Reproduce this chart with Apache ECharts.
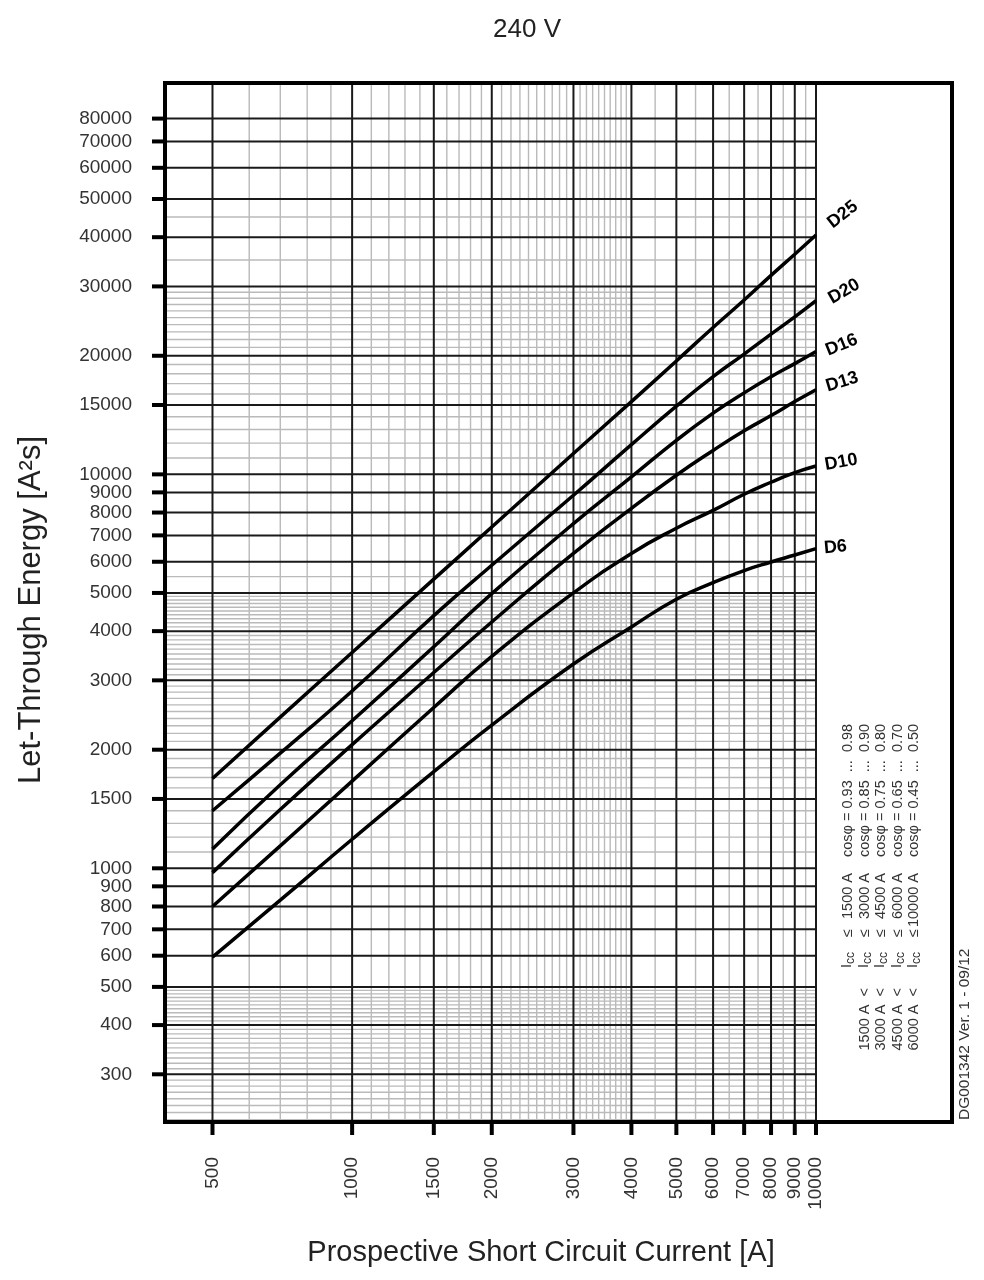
<!DOCTYPE html>
<html>
<head>
<meta charset="utf-8">
<title>240 V</title>
<script src="https://cdn.jsdelivr.net/npm/echarts@6/dist/echarts.min.js"></script>
<style>
    html, body { margin: 0; padding: 0; background: #fff; }
    #main { width: 984px; height: 1280px; }
</style>
</head>
<body>
<div id="main"></div>
<script>
    // axis ranges (log scales)
    var X_MIN = 395, X_MAX = 10000;
    var Y_MIN = 227, Y_MAX = 98500;

    // prospective short circuit current [A]
    var current = [500, 700, 1000, 1500, 2000, 3000, 4000, 5000, 6000, 7000, 8000, 9000, 10000];
    // let-through energy [A²s]
    var d25 = [1690, 2420, 3530, 5420, 7350, 11300, 15300, 19400, 23600, 27700, 32000, 36200, 40500];
    var d20 = [1400, 1960, 2820, 4380, 5880, 8850, 11900, 14900, 17700, 20200, 22700, 25100, 27600];
    var d16 = [1120, 1630, 2370, 3650, 4980, 7500, 9850, 12200, 14300, 16100, 17700, 19100, 20500];
    var d13 = [975, 1410, 2060, 3140, 4220, 6300, 8200, 9950, 11500, 12900, 14100, 15300, 16400];
    var d10 = [800, 1140, 1665, 2560, 3450, 5000, 6300, 7300, 8100, 8900, 9550, 10100, 10500];
    var d6  = [595, 830, 1185, 1760, 2310, 3300, 4100, 4820, 5310, 5700, 5990, 6240, 6480];

    var curveNames = ['D25', 'D20', 'D16', 'D13', 'D10', 'D6'];
    var curveValues = [d25, d20, d16, d13, d10, d6];
    var labelRotate = [38, 30, 22, 17, 10, 5];
    var labelOffset = [[14, -2], [9, 4], [6, 2], [7, -1], [5, 0], [4, 0]];

    // grid / tick values
    var xMajor = [500, 1000, 1500, 2000, 3000, 4000, 5000, 6000, 7000, 8000, 9000, 10000];
    var xMinor = [600, 700, 800, 900, 1100, 1200, 1300, 1400, 1600, 1700, 1800, 1900,
        2100, 2200, 2300, 2400, 2500, 2600, 2700, 2800, 2900,
        3100, 3200, 3300, 3400, 3500, 3600, 3700, 3800, 3900,
        4500, 5500, 6500, 7500, 8500, 9500];
    var yMajor = [300, 400, 500, 600, 700, 800, 900, 1000, 1500, 2000, 3000, 4000, 5000,
        6000, 7000, 8000, 9000, 10000, 15000, 20000, 30000, 40000, 50000, 60000, 70000, 80000];
    var yMinor = [230, 240, 250, 260, 270, 280, 290, 310, 320, 330, 340, 350, 360, 370, 380, 390,
        410, 420, 430, 440, 450, 460, 470, 480, 490,
        1100, 1200, 1300, 1400, 1600, 1700, 1800, 1900,
        2100, 2200, 2300, 2400, 2500, 2600, 2700, 2800, 2900,
        3100, 3200, 3300, 3400, 3500, 3600, 3700, 3800, 3900,
        4100, 4200, 4300, 4400, 4500, 4600, 4700, 4800, 4900, 5500,
        11000, 12000, 13000, 14000, 16000, 17000, 18000, 19000,
        21000, 22000, 23000, 24000, 25000, 26000, 27000, 28000, 29000, 35000, 45000];

    // cos phi table
    var iccFrom = ['', '1500 A', '3000 A', '4500 A', '6000 A'];
    var iccTo = ['1500 A', '3000 A', '4500 A', '6000 A', '10000 A'];
    var cosLow = ['0.93', '0.85', '0.75', '0.65', '0.45'];
    var cosHigh = ['0.98', '0.90', '0.80', '0.70', '0.50'];

    var FONT = '"Liberation Sans", Arial, sans-serif';
    var GRID = { left: 165, right: 168, top: 83, bottom: 158 };

    function gridRender(dir, major) {
        return function (params, api) {
            var cs = params.coordSys;
            var p = api.coord([api.value(0), api.value(1)]);
            var stroke = major ? '#1a1a1a' : '#bababa';
            var lw = major ? 2 : 1.4;
            var kids = [];
            if (dir === 'x') {
                kids.push({ type: 'line', shape: { x1: p[0], y1: cs.y, x2: p[0], y2: cs.y + cs.height },
                    style: { stroke: stroke, lineWidth: lw } });
                if (major) {
                    kids.push({ type: 'line', shape: { x1: p[0], y1: cs.y + cs.height, x2: p[0], y2: cs.y + cs.height + 13 },
                        style: { stroke: '#000', lineWidth: 4 } });
                    kids.push({ type: 'text', x: p[0], y: cs.y + cs.height + 35, rotation: Math.PI / 2,
                        style: { text: String(api.value(0)), font: '19px ' + FONT, fill: '#333',
                            align: 'right', verticalAlign: 'middle' } });
                }
            } else {
                kids.push({ type: 'line', shape: { x1: cs.x, y1: p[1], x2: cs.x + cs.width, y2: p[1] },
                    style: { stroke: stroke, lineWidth: lw } });
                if (major) {
                    kids.push({ type: 'line', shape: { x1: cs.x - 13, y1: p[1], x2: cs.x, y2: p[1] },
                        style: { stroke: '#000', lineWidth: 4 } });
                    kids.push({ type: 'text', x: cs.x - 33, y: p[1],
                        style: { text: String(api.value(1)), font: '19px ' + FONT, fill: '#333',
                            align: 'right', verticalAlign: 'middle' } });
                }
            }
            return { type: 'group', children: kids };
        };
    }

    function gridSeries(dir, major, values) {
        return {
            type: 'custom',
            silent: true,
            z: major ? 2 : 1,
            renderItem: gridRender(dir, major),
            data: values.map(function (v) { return dir === 'x' ? [v, Y_MIN] : [X_MIN, v]; })
        };
    }

    var series = [
        gridSeries('x', false, xMinor),
        gridSeries('y', false, yMinor),
        gridSeries('x', true, xMajor),
        gridSeries('y', true, yMajor)
    ];

    curveNames.forEach(function (name, i) {
        series.push({
            name: name,
            type: 'line',
            z: 5,
            smooth: 0.5,
            showSymbol: false,
            silent: true,
            lineStyle: { color: '#000', width: 3.5 },
            endLabel: {
                show: true,
                formatter: '{a}',
                rotate: labelRotate[i],
                distance: 4,
                offset: labelOffset[i],
                color: '#000',
                fontSize: 18,
                fontWeight: 'bold',
                fontFamily: FONT
            },
            data: current.map(function (c, k) { return [c, curveValues[i][k]]; })
        });
    });

    // rotated cos phi table in the right panel
    var graphics = [];
    var frameRight = 984 - 32;
    var plotBottom = 1280 - GRID.bottom;
    function vtext(text, x, y, align, size) {
        return { type: 'text', x: x, y: y, rotation: Math.PI / 2, z: 20,
            style: { text: text, font: size + 'px ' + FONT, fill: '#333', align: align, verticalAlign: 'middle' } };
    }
    for (var i = 0; i < iccTo.length; i++) {
        var xr = 848 + 16.5 * i;
        if (iccFrom[i]) graphics.push(vtext(iccFrom[i] + '  <', xr, 988, 'right', 14.5));
        graphics.push(vtext('I', xr - 1, 968, 'left', 14.5));
        graphics.push(vtext('cc', xr + 3, 964, 'left', 12));
        graphics.push(vtext('\u2264', xr, 933, 'center', 14.5));
        graphics.push(vtext(iccTo[i], xr, 873, 'right', 14.5));
        graphics.push(vtext('cos\u03c6 = ' + cosLow[i] + '  ...  ' + cosHigh[i], xr, 857, 'left', 14.5));
    }
    graphics.push(vtext('DG001342 Ver. 1 - 09/12', 965, plotBottom - 2, 'left', 15.5));

    // outer frame
    graphics.push({ type: 'rect', z: 30, silent: true,
        shape: { x: GRID.left, y: GRID.top, width: frameRight - GRID.left, height: plotBottom - GRID.top },
        style: { fill: 'transparent', stroke: '#000', lineWidth: 4 } });

    // titles
    graphics.push({ type: 'text', x: 527, y: 30, z: 20,
        style: { text: '240 V', font: '26px ' + FONT, fill: '#222', align: 'center', verticalAlign: 'middle' } });
    graphics.push({ type: 'text', x: 31, y: 610, rotation: Math.PI / 2, z: 20,
        style: { text: 'Let-Through Energy [A\u00b2s]', font: '31px ' + FONT, fill: '#222', align: 'center', verticalAlign: 'middle' } });
    graphics.push({ type: 'text', x: 541, y: 1253, z: 20,
        style: { text: 'Prospective Short Circuit Current [A]', font: '29px ' + FONT, fill: '#222', align: 'center', verticalAlign: 'middle' } });

    var hiddenAxis = {
        axisLine: { show: false },
        axisTick: { show: false },
        axisLabel: { show: false },
        splitLine: { show: false },
        minorTick: { show: false },
        minorSplitLine: { show: false }
    };

    var myChart = echarts.init(document.getElementById('main'));
    var option = {
        animation: false,
        backgroundColor: '#fff',
        grid: { left: GRID.left, right: GRID.right, top: GRID.top, bottom: GRID.bottom },
        xAxis: Object.assign({ type: 'log', logBase: 10, min: X_MIN, max: X_MAX }, hiddenAxis),
        yAxis: Object.assign({ type: 'log', logBase: 10, min: Y_MIN, max: Y_MAX }, hiddenAxis),
        graphic: graphics,
        series: series
    };
    myChart.setOption(option);
</script>
</body>
</html>
